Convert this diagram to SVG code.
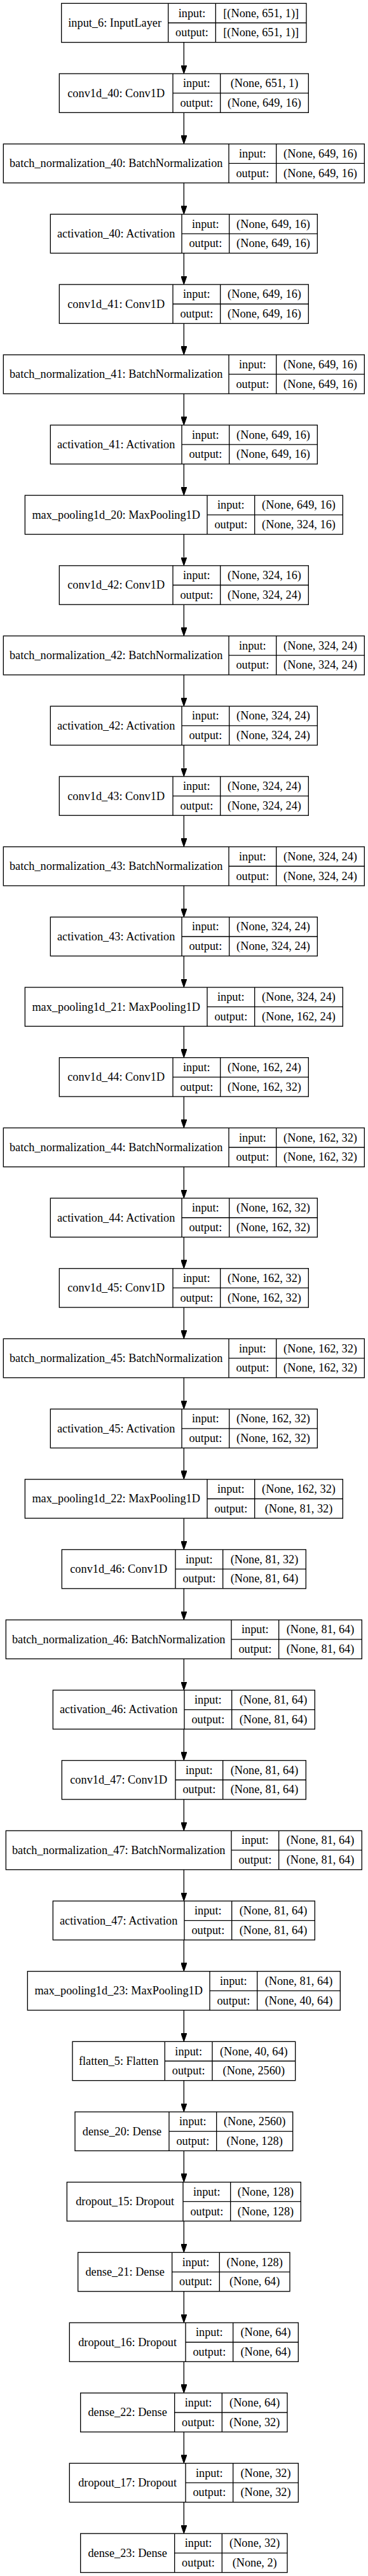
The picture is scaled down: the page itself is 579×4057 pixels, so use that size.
<svg xmlns="http://www.w3.org/2000/svg" width="579" height="4057" viewBox="0 0 579 4057">
<style>
.n rect{fill:#fff;stroke:#000;stroke-width:1.33}
.n path{fill:none;stroke:#000;stroke-width:1.33}
.n text{font-family:"Liberation Serif","Times New Roman",serif;font-size:18.3px;fill:#000;text-anchor:middle}
.e path{fill:none;stroke:#000;stroke-width:1.33}
</style>
<defs>
<marker id="ah" markerUnits="userSpaceOnUse" viewBox="0 0 13.33 9.33" refX="0" refY="4.67" markerWidth="13.33" markerHeight="9.33" orient="auto">
<path d="M0,0 L13.33,4.67 L0,9.33 z" fill="#000" stroke="#000" stroke-width="1"/>
</marker>
</defs>
<rect width="579" height="4057" fill="#fff"/>
<g class="e">
<path marker-end="url(#ah)" d="M289.33 66.66V102.69"/>
<path marker-end="url(#ah)" d="M289.33 177.35V213.38"/>
<path marker-end="url(#ah)" d="M289.33 288.04V324.07"/>
<path marker-end="url(#ah)" d="M289.33 398.73V434.76"/>
<path marker-end="url(#ah)" d="M289.33 509.42V545.45"/>
<path marker-end="url(#ah)" d="M289.33 620.11V656.14"/>
<path marker-end="url(#ah)" d="M289.33 730.80V766.83"/>
<path marker-end="url(#ah)" d="M289.33 841.49V877.52"/>
<path marker-end="url(#ah)" d="M289.33 952.18V988.21"/>
<path marker-end="url(#ah)" d="M289.33 1062.87V1098.90"/>
<path marker-end="url(#ah)" d="M289.33 1173.56V1209.59"/>
<path marker-end="url(#ah)" d="M289.33 1284.25V1320.28"/>
<path marker-end="url(#ah)" d="M289.33 1394.94V1430.97"/>
<path marker-end="url(#ah)" d="M289.33 1505.63V1541.66"/>
<path marker-end="url(#ah)" d="M289.33 1616.32V1652.35"/>
<path marker-end="url(#ah)" d="M289.33 1727.01V1763.04"/>
<path marker-end="url(#ah)" d="M289.33 1837.70V1873.73"/>
<path marker-end="url(#ah)" d="M289.33 1948.39V1984.42"/>
<path marker-end="url(#ah)" d="M289.33 2059.08V2095.11"/>
<path marker-end="url(#ah)" d="M289.33 2169.77V2205.80"/>
<path marker-end="url(#ah)" d="M289.33 2280.46V2316.49"/>
<path marker-end="url(#ah)" d="M289.33 2391.15V2427.18"/>
<path marker-end="url(#ah)" d="M289.33 2501.84V2537.87"/>
<path marker-end="url(#ah)" d="M289.33 2612.53V2648.56"/>
<path marker-end="url(#ah)" d="M289.33 2723.22V2759.25"/>
<path marker-end="url(#ah)" d="M289.33 2833.91V2869.94"/>
<path marker-end="url(#ah)" d="M289.33 2944.60V2980.63"/>
<path marker-end="url(#ah)" d="M289.33 3055.29V3091.32"/>
<path marker-end="url(#ah)" d="M289.33 3165.98V3202.01"/>
<path marker-end="url(#ah)" d="M289.33 3276.67V3312.70"/>
<path marker-end="url(#ah)" d="M289.33 3387.36V3423.39"/>
<path marker-end="url(#ah)" d="M289.33 3498.05V3534.08"/>
<path marker-end="url(#ah)" d="M289.33 3608.74V3644.77"/>
<path marker-end="url(#ah)" d="M289.33 3719.43V3755.46"/>
<path marker-end="url(#ah)" d="M289.33 3830.12V3866.15"/>
<path marker-end="url(#ah)" d="M289.33 3940.81V3976.84"/>
</g>

<g id="input_6" class="n" transform="translate(0,5.33)">
<rect x="96.66" y="0" width="385.34" height="61.33"/>
<path d="M264.66 0V61.33M264.66 30.67H482M339.33 0V61.33"/>
<text x="180.66" y="36.6">input_6: InputLayer</text>
<text x="302" y="21.2">input:</text><text x="302" y="51.9">output:</text>
<text x="410.67" y="21.2">[(None, 651, 1)]</text><text x="410.67" y="51.9">[(None, 651, 1)]</text>
</g>

<g id="conv1d_40" class="n" transform="translate(0,116.02)">
<rect x="93.33" y="0" width="392" height="61.33"/>
<path d="M272 0V61.33M272 30.67H485.33M346.67 0V61.33"/>
<text x="182.67" y="36.6">conv1d_40: Conv1D</text>
<text x="309.33" y="21.2">input:</text><text x="309.33" y="51.9">output:</text>
<text x="416" y="21.2">(None, 651, 1)</text><text x="416" y="51.9">(None, 649, 16)</text>
</g>

<g id="batch_normalization_40" class="n" transform="translate(0,226.71)">
<rect x="5.33" y="0" width="568" height="61.33"/>
<path d="M360 0V61.33M360 30.67H573.33M434.67 0V61.33"/>
<text x="182.67" y="36.6">batch_normalization_40: BatchNormalization</text>
<text x="397.33" y="21.2">input:</text><text x="397.33" y="51.9">output:</text>
<text x="504" y="21.2">(None, 649, 16)</text><text x="504" y="51.9">(None, 649, 16)</text>
</g>

<g id="activation_40" class="n" transform="translate(0,337.40)">
<rect x="79.33" y="0" width="420" height="61.33"/>
<path d="M286 0V61.33M286 30.67H499.33M360.67 0V61.33"/>
<text x="182.67" y="36.6">activation_40: Activation</text>
<text x="323.33" y="21.2">input:</text><text x="323.33" y="51.9">output:</text>
<text x="430" y="21.2">(None, 649, 16)</text><text x="430" y="51.9">(None, 649, 16)</text>
</g>

<g id="conv1d_41" class="n" transform="translate(0,448.09)">
<rect x="93.33" y="0" width="392" height="61.33"/>
<path d="M272 0V61.33M272 30.67H485.33M346.67 0V61.33"/>
<text x="182.67" y="36.6">conv1d_41: Conv1D</text>
<text x="309.33" y="21.2">input:</text><text x="309.33" y="51.9">output:</text>
<text x="416" y="21.2">(None, 649, 16)</text><text x="416" y="51.9">(None, 649, 16)</text>
</g>

<g id="batch_normalization_41" class="n" transform="translate(0,558.78)">
<rect x="5.33" y="0" width="568" height="61.33"/>
<path d="M360 0V61.33M360 30.67H573.33M434.67 0V61.33"/>
<text x="182.67" y="36.6">batch_normalization_41: BatchNormalization</text>
<text x="397.33" y="21.2">input:</text><text x="397.33" y="51.9">output:</text>
<text x="504" y="21.2">(None, 649, 16)</text><text x="504" y="51.9">(None, 649, 16)</text>
</g>

<g id="activation_41" class="n" transform="translate(0,669.47)">
<rect x="79.33" y="0" width="420" height="61.33"/>
<path d="M286 0V61.33M286 30.67H499.33M360.67 0V61.33"/>
<text x="182.67" y="36.6">activation_41: Activation</text>
<text x="323.33" y="21.2">input:</text><text x="323.33" y="51.9">output:</text>
<text x="430" y="21.2">(None, 649, 16)</text><text x="430" y="51.9">(None, 649, 16)</text>
</g>

<g id="max_pooling1d_20" class="n" transform="translate(0,780.16)">
<rect x="39.33" y="0" width="500" height="61.33"/>
<path d="M326 0V61.33M326 30.67H539.33M400.67 0V61.33"/>
<text x="182.67" y="36.6">max_pooling1d_20: MaxPooling1D</text>
<text x="363.33" y="21.2">input:</text><text x="363.33" y="51.9">output:</text>
<text x="470" y="21.2">(None, 649, 16)</text><text x="470" y="51.9">(None, 324, 16)</text>
</g>

<g id="conv1d_42" class="n" transform="translate(0,890.85)">
<rect x="93.33" y="0" width="392" height="61.33"/>
<path d="M272 0V61.33M272 30.67H485.33M346.67 0V61.33"/>
<text x="182.67" y="36.6">conv1d_42: Conv1D</text>
<text x="309.33" y="21.2">input:</text><text x="309.33" y="51.9">output:</text>
<text x="416" y="21.2">(None, 324, 16)</text><text x="416" y="51.9">(None, 324, 24)</text>
</g>

<g id="batch_normalization_42" class="n" transform="translate(0,1001.54)">
<rect x="5.33" y="0" width="568" height="61.33"/>
<path d="M360 0V61.33M360 30.67H573.33M434.67 0V61.33"/>
<text x="182.67" y="36.6">batch_normalization_42: BatchNormalization</text>
<text x="397.33" y="21.2">input:</text><text x="397.33" y="51.9">output:</text>
<text x="504" y="21.2">(None, 324, 24)</text><text x="504" y="51.9">(None, 324, 24)</text>
</g>

<g id="activation_42" class="n" transform="translate(0,1112.23)">
<rect x="79.33" y="0" width="420" height="61.33"/>
<path d="M286 0V61.33M286 30.67H499.33M360.67 0V61.33"/>
<text x="182.67" y="36.6">activation_42: Activation</text>
<text x="323.33" y="21.2">input:</text><text x="323.33" y="51.9">output:</text>
<text x="430" y="21.2">(None, 324, 24)</text><text x="430" y="51.9">(None, 324, 24)</text>
</g>

<g id="conv1d_43" class="n" transform="translate(0,1222.92)">
<rect x="93.33" y="0" width="392" height="61.33"/>
<path d="M272 0V61.33M272 30.67H485.33M346.67 0V61.33"/>
<text x="182.67" y="36.6">conv1d_43: Conv1D</text>
<text x="309.33" y="21.2">input:</text><text x="309.33" y="51.9">output:</text>
<text x="416" y="21.2">(None, 324, 24)</text><text x="416" y="51.9">(None, 324, 24)</text>
</g>

<g id="batch_normalization_43" class="n" transform="translate(0,1333.61)">
<rect x="5.33" y="0" width="568" height="61.33"/>
<path d="M360 0V61.33M360 30.67H573.33M434.67 0V61.33"/>
<text x="182.67" y="36.6">batch_normalization_43: BatchNormalization</text>
<text x="397.33" y="21.2">input:</text><text x="397.33" y="51.9">output:</text>
<text x="504" y="21.2">(None, 324, 24)</text><text x="504" y="51.9">(None, 324, 24)</text>
</g>

<g id="activation_43" class="n" transform="translate(0,1444.30)">
<rect x="79.33" y="0" width="420" height="61.33"/>
<path d="M286 0V61.33M286 30.67H499.33M360.67 0V61.33"/>
<text x="182.67" y="36.6">activation_43: Activation</text>
<text x="323.33" y="21.2">input:</text><text x="323.33" y="51.9">output:</text>
<text x="430" y="21.2">(None, 324, 24)</text><text x="430" y="51.9">(None, 324, 24)</text>
</g>

<g id="max_pooling1d_21" class="n" transform="translate(0,1554.99)">
<rect x="39.33" y="0" width="500" height="61.33"/>
<path d="M326 0V61.33M326 30.67H539.33M400.67 0V61.33"/>
<text x="182.67" y="36.6">max_pooling1d_21: MaxPooling1D</text>
<text x="363.33" y="21.2">input:</text><text x="363.33" y="51.9">output:</text>
<text x="470" y="21.2">(None, 324, 24)</text><text x="470" y="51.9">(None, 162, 24)</text>
</g>

<g id="conv1d_44" class="n" transform="translate(0,1665.68)">
<rect x="93.33" y="0" width="392" height="61.33"/>
<path d="M272 0V61.33M272 30.67H485.33M346.67 0V61.33"/>
<text x="182.67" y="36.6">conv1d_44: Conv1D</text>
<text x="309.33" y="21.2">input:</text><text x="309.33" y="51.9">output:</text>
<text x="416" y="21.2">(None, 162, 24)</text><text x="416" y="51.9">(None, 162, 32)</text>
</g>

<g id="batch_normalization_44" class="n" transform="translate(0,1776.37)">
<rect x="5.33" y="0" width="568" height="61.33"/>
<path d="M360 0V61.33M360 30.67H573.33M434.67 0V61.33"/>
<text x="182.67" y="36.6">batch_normalization_44: BatchNormalization</text>
<text x="397.33" y="21.2">input:</text><text x="397.33" y="51.9">output:</text>
<text x="504" y="21.2">(None, 162, 32)</text><text x="504" y="51.9">(None, 162, 32)</text>
</g>

<g id="activation_44" class="n" transform="translate(0,1887.06)">
<rect x="79.33" y="0" width="420" height="61.33"/>
<path d="M286 0V61.33M286 30.67H499.33M360.67 0V61.33"/>
<text x="182.67" y="36.6">activation_44: Activation</text>
<text x="323.33" y="21.2">input:</text><text x="323.33" y="51.9">output:</text>
<text x="430" y="21.2">(None, 162, 32)</text><text x="430" y="51.9">(None, 162, 32)</text>
</g>

<g id="conv1d_45" class="n" transform="translate(0,1997.75)">
<rect x="93.33" y="0" width="392" height="61.33"/>
<path d="M272 0V61.33M272 30.67H485.33M346.67 0V61.33"/>
<text x="182.67" y="36.6">conv1d_45: Conv1D</text>
<text x="309.33" y="21.2">input:</text><text x="309.33" y="51.9">output:</text>
<text x="416" y="21.2">(None, 162, 32)</text><text x="416" y="51.9">(None, 162, 32)</text>
</g>

<g id="batch_normalization_45" class="n" transform="translate(0,2108.44)">
<rect x="5.33" y="0" width="568" height="61.33"/>
<path d="M360 0V61.33M360 30.67H573.33M434.67 0V61.33"/>
<text x="182.67" y="36.6">batch_normalization_45: BatchNormalization</text>
<text x="397.33" y="21.2">input:</text><text x="397.33" y="51.9">output:</text>
<text x="504" y="21.2">(None, 162, 32)</text><text x="504" y="51.9">(None, 162, 32)</text>
</g>

<g id="activation_45" class="n" transform="translate(0,2219.13)">
<rect x="79.33" y="0" width="420" height="61.33"/>
<path d="M286 0V61.33M286 30.67H499.33M360.67 0V61.33"/>
<text x="182.67" y="36.6">activation_45: Activation</text>
<text x="323.33" y="21.2">input:</text><text x="323.33" y="51.9">output:</text>
<text x="430" y="21.2">(None, 162, 32)</text><text x="430" y="51.9">(None, 162, 32)</text>
</g>

<g id="max_pooling1d_22" class="n" transform="translate(0,2329.82)">
<rect x="39.33" y="0" width="500" height="61.33"/>
<path d="M326 0V61.33M326 30.67H539.33M400.67 0V61.33"/>
<text x="182.67" y="36.6">max_pooling1d_22: MaxPooling1D</text>
<text x="363.33" y="21.2">input:</text><text x="363.33" y="51.9">output:</text>
<text x="470" y="21.2">(None, 162, 32)</text><text x="470" y="51.9">(None, 81, 32)</text>
</g>

<g id="conv1d_46" class="n" transform="translate(0,2440.51)">
<rect x="97.33" y="0" width="384" height="61.33"/>
<path d="M276 0V61.33M276 30.67H481.33M350.67 0V61.33"/>
<text x="186.67" y="36.6">conv1d_46: Conv1D</text>
<text x="313.33" y="21.2">input:</text><text x="313.33" y="51.9">output:</text>
<text x="416" y="21.2">(None, 81, 32)</text><text x="416" y="51.9">(None, 81, 64)</text>
</g>

<g id="batch_normalization_46" class="n" transform="translate(0,2551.20)">
<rect x="9.33" y="0" width="560" height="61.33"/>
<path d="M364 0V61.33M364 30.67H569.33M438.67 0V61.33"/>
<text x="186.67" y="36.6">batch_normalization_46: BatchNormalization</text>
<text x="401.33" y="21.2">input:</text><text x="401.33" y="51.9">output:</text>
<text x="504" y="21.2">(None, 81, 64)</text><text x="504" y="51.9">(None, 81, 64)</text>
</g>

<g id="activation_46" class="n" transform="translate(0,2661.89)">
<rect x="83.33" y="0" width="412" height="61.33"/>
<path d="M290 0V61.33M290 30.67H495.33M364.67 0V61.33"/>
<text x="186.67" y="36.6">activation_46: Activation</text>
<text x="327.33" y="21.2">input:</text><text x="327.33" y="51.9">output:</text>
<text x="430" y="21.2">(None, 81, 64)</text><text x="430" y="51.9">(None, 81, 64)</text>
</g>

<g id="conv1d_47" class="n" transform="translate(0,2772.58)">
<rect x="97.33" y="0" width="384" height="61.33"/>
<path d="M276 0V61.33M276 30.67H481.33M350.67 0V61.33"/>
<text x="186.67" y="36.6">conv1d_47: Conv1D</text>
<text x="313.33" y="21.2">input:</text><text x="313.33" y="51.9">output:</text>
<text x="416" y="21.2">(None, 81, 64)</text><text x="416" y="51.9">(None, 81, 64)</text>
</g>

<g id="batch_normalization_47" class="n" transform="translate(0,2883.27)">
<rect x="9.33" y="0" width="560" height="61.33"/>
<path d="M364 0V61.33M364 30.67H569.33M438.67 0V61.33"/>
<text x="186.67" y="36.6">batch_normalization_47: BatchNormalization</text>
<text x="401.33" y="21.2">input:</text><text x="401.33" y="51.9">output:</text>
<text x="504" y="21.2">(None, 81, 64)</text><text x="504" y="51.9">(None, 81, 64)</text>
</g>

<g id="activation_47" class="n" transform="translate(0,2993.96)">
<rect x="83.33" y="0" width="412" height="61.33"/>
<path d="M290 0V61.33M290 30.67H495.33M364.67 0V61.33"/>
<text x="186.67" y="36.6">activation_47: Activation</text>
<text x="327.33" y="21.2">input:</text><text x="327.33" y="51.9">output:</text>
<text x="430" y="21.2">(None, 81, 64)</text><text x="430" y="51.9">(None, 81, 64)</text>
</g>

<g id="max_pooling1d_23" class="n" transform="translate(0,3104.65)">
<rect x="43.33" y="0" width="492" height="61.33"/>
<path d="M330 0V61.33M330 30.67H535.33M404.67 0V61.33"/>
<text x="186.67" y="36.6">max_pooling1d_23: MaxPooling1D</text>
<text x="367.33" y="21.2">input:</text><text x="367.33" y="51.9">output:</text>
<text x="470" y="21.2">(None, 81, 64)</text><text x="470" y="51.9">(None, 40, 64)</text>
</g>

<g id="flatten_5" class="n" transform="translate(0,3215.34)">
<rect x="114" y="0" width="350.67" height="61.33"/>
<path d="M259.33 0V61.33M259.33 30.67H464.67M334 0V61.33"/>
<text x="186.67" y="36.6">flatten_5: Flatten</text>
<text x="296.67" y="21.2">input:</text><text x="296.67" y="51.9">output:</text>
<text x="399.33" y="21.2">(None, 40, 64)</text><text x="399.33" y="51.9">(None, 2560)</text>
</g>

<g id="dense_20" class="n" transform="translate(0,3326.03)">
<rect x="118" y="0" width="342.67" height="61.33"/>
<path d="M266 0V61.33M266 30.67H460.67M340.67 0V61.33"/>
<text x="192" y="36.6">dense_20: Dense</text>
<text x="303.33" y="21.2">input:</text><text x="303.33" y="51.9">output:</text>
<text x="400.67" y="21.2">(None, 2560)</text><text x="400.67" y="51.9">(None, 128)</text>
</g>

<g id="dropout_15" class="n" transform="translate(0,3436.72)">
<rect x="105.33" y="0" width="368" height="61.33"/>
<path d="M288 0V61.33M288 30.67H473.33M362.67 0V61.33"/>
<text x="196.67" y="36.6">dropout_15: Dropout</text>
<text x="325.33" y="21.2">input:</text><text x="325.33" y="51.9">output:</text>
<text x="418" y="21.2">(None, 128)</text><text x="418" y="51.9">(None, 128)</text>
</g>

<g id="dense_21" class="n" transform="translate(0,3547.41)">
<rect x="122.67" y="0" width="333.33" height="61.33"/>
<path d="M270.67 0V61.33M270.67 30.67H456M345.33 0V61.33"/>
<text x="196.67" y="36.6">dense_21: Dense</text>
<text x="308" y="21.2">input:</text><text x="308" y="51.9">output:</text>
<text x="400.67" y="21.2">(None, 128)</text><text x="400.67" y="51.9">(None, 64)</text>
</g>

<g id="dropout_16" class="n" transform="translate(0,3658.10)">
<rect x="109.33" y="0" width="360" height="61.33"/>
<path d="M292 0V61.33M292 30.67H469.33M366.67 0V61.33"/>
<text x="200.67" y="36.6">dropout_16: Dropout</text>
<text x="329.33" y="21.2">input:</text><text x="329.33" y="51.9">output:</text>
<text x="418" y="21.2">(None, 64)</text><text x="418" y="51.9">(None, 64)</text>
</g>

<g id="dense_22" class="n" transform="translate(0,3768.79)">
<rect x="126.67" y="0" width="325.33" height="61.33"/>
<path d="M274.67 0V61.33M274.67 30.67H452M349.33 0V61.33"/>
<text x="200.67" y="36.6">dense_22: Dense</text>
<text x="312" y="21.2">input:</text><text x="312" y="51.9">output:</text>
<text x="400.67" y="21.2">(None, 64)</text><text x="400.67" y="51.9">(None, 32)</text>
</g>

<g id="dropout_17" class="n" transform="translate(0,3879.48)">
<rect x="109.33" y="0" width="360" height="61.33"/>
<path d="M292 0V61.33M292 30.67H469.33M366.67 0V61.33"/>
<text x="200.67" y="36.6">dropout_17: Dropout</text>
<text x="329.33" y="21.2">input:</text><text x="329.33" y="51.9">output:</text>
<text x="418" y="21.2">(None, 32)</text><text x="418" y="51.9">(None, 32)</text>
</g>

<g id="dense_23" class="n" transform="translate(0,3990.17)">
<rect x="126.67" y="0" width="325.33" height="61.33"/>
<path d="M274.67 0V61.33M274.67 30.67H452M349.33 0V61.33"/>
<text x="200.67" y="36.6">dense_23: Dense</text>
<text x="312" y="21.2">input:</text><text x="312" y="51.9">output:</text>
<text x="400.67" y="21.2">(None, 32)</text><text x="400.67" y="51.9">(None, 2)</text>
</g>
</svg>
